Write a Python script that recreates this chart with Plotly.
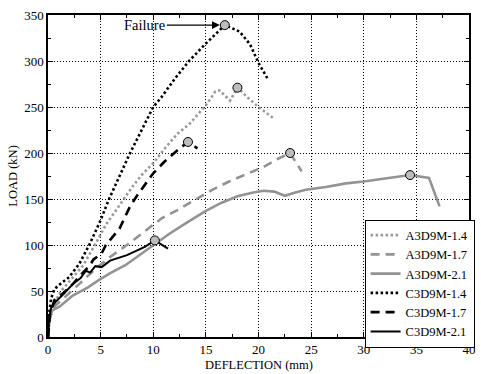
import plotly.graph_objects as go

# ---- data (deflection mm, load kN) ----
a14_x = [0, 0.15, 0.4, 1.25, 2.3, 3.35, 4.45, 5.5, 6.6, 8.0, 8.9, 10, 11.1, 12.3, 13.4, 14.2, 15.15, 15.9, 16.3, 17.3, 18.0, 19.0, 20.0, 21.4]
a14_y = [0, 22, 33, 50, 64, 78, 100, 122, 140, 163, 176, 189, 205, 221, 231, 241, 254, 267, 268, 257, 271, 260, 250, 238]

a17_x = [0, 0.2, 0.6, 1.5, 3.0, 4.5, 5.9, 7.5, 9.4, 10.8, 12.3, 13.9, 15.6, 17.2, 18.9, 20.5, 21.9, 23.0, 24.1]
a17_y = [0, 22, 33, 42, 58, 74, 87, 100, 117, 129, 138, 149, 160, 169, 177, 185, 194, 200, 180]

a21_x = [0, 0.15, 0.4, 1.1, 2.35, 3.8, 4.85, 6.0, 7.35, 8.7, 10, 11.5, 13, 15, 16.5, 18, 19.5, 20.5, 21.5, 22.5, 23.5, 24.5, 26.4, 28.3, 30, 32, 34.4, 36.2, 37.2]
a21_y = [0, 20, 29, 33, 45, 54, 62, 70, 78, 89, 100, 112, 123, 137, 146, 153, 157, 159, 158, 153.5, 157, 160, 163, 167, 169, 172, 176, 173, 142]

c14_x = [0, 0.1, 0.3, 0.6, 1.2, 2.0, 3.0, 4.0, 5.0, 5.8, 6.8, 7.8, 8.9, 10, 10.8, 12, 13.4, 15, 16.8, 18.2, 19.2, 20.0, 20.9]
c14_y = [0, 25, 42, 52, 58, 65, 80, 102, 127, 150, 175, 200, 225, 250, 261, 280, 300, 319, 339, 332, 318, 298, 280]

c17_x = [0, 0.2, 0.6, 1.2, 2.4, 2.9, 4.0, 4.3, 5.1, 5.5, 6.3, 6.8, 7.8, 8.6, 10, 11.1, 12.3, 13.3, 14.2]
c17_y = [0, 25, 40, 45, 58, 65, 78, 84, 91, 100, 111, 118, 142, 156, 178, 191, 203, 212, 205]

c21_x = [0, 0.1, 0.3, 0.7, 1.5, 2.4, 3.1, 3.6, 4.0, 4.5, 5.1, 5.9, 7.5, 9.2, 10.15, 11.4]
c21_y = [0, 20, 32, 38, 47, 58, 64, 72, 70, 77, 76, 83, 89, 98, 105, 96]

fail_x = [18.0, 23.0, 34.4, 16.8, 13.3, 10.15]
fail_y = [271, 200, 176, 339, 212, 105]

names = ["A3D9M-1.4", "A3D9M-1.7", "A3D9M-2.1", "C3D9M-1.4", "C3D9M-1.7", "C3D9M-2.1"]
x_ticks = [0, 5, 10, 15, 20, 25, 30, 35, 40]
y_ticks = [0, 50, 100, 150, 200, 250, 300, 350]

GREY = "#939393"
series = [
    (a14_x, a14_y, dict(color="#9a9a9a", width=2.6, dash="2.5px,2.5px")),
    (a17_x, a17_y, dict(color=GREY, width=2.6, dash="9px,6px")),
    (a21_x, a21_y, dict(color=GREY, width=2.6)),
    (c14_x, c14_y, dict(color="black", width=2.6, dash="2.5px,2.5px")),
    (c17_x, c17_y, dict(color="black", width=2.6, dash="9px,6px")),
    (c21_x, c21_y, dict(color="black", width=2.0)),
]

fig = go.Figure()
for (x, y, ln), nm in zip(series, names):
    fig.add_trace(go.Scatter(x=x, y=y, mode="lines", name=nm, line=ln))

fig.add_trace(go.Scatter(x=fail_x, y=fail_y, mode="markers", showlegend=False,
                         marker=dict(size=9, color="#bdbdbd", line=dict(color="black", width=1))))

FONT = "Liberation Serif"
grid = dict(showgrid=True, gridcolor="black", gridwidth=1, griddash="1px,2px",
            showline=True, linecolor="black", linewidth=1.5, mirror="ticks",
            ticks="inside", ticklen=5, tickwidth=1, tickcolor="black",
            zeroline=False, tickfont=dict(family=FONT, size=13, color="black"))

fig.update_layout(
    width=481, height=374,
    margin=dict(l=48, r=5, t=15, b=37),
    paper_bgcolor="white", plot_bgcolor="white",
    font=dict(family=FONT, size=12, color="black"),
    xaxis=dict(range=[0, 40], tickvals=x_ticks, ticktext=[str(v) for v in x_ticks],
               minor=dict(ticks="inside", ticklen=3, dtick=2.5, tick0=0, showgrid=False, tickcolor="black"),
               **grid),
    yaxis=dict(range=[0, 350], tickvals=y_ticks, ticktext=[str(v) for v in y_ticks],
               minor=dict(ticks="inside", ticklen=3, dtick=25, tick0=0, showgrid=False, tickcolor="black"),
               **grid),
    legend=dict(x=0.752, y=0.166, xanchor="left", yanchor="middle",
                bgcolor="white", bordercolor="black", borderwidth=1,
                font=dict(family=FONT, size=12.5, color="black"),
                itemwidth=30, tracegroupgap=0),
    showlegend=True,
)

fig.add_annotation(x=0.5, y=-0.087, xref="paper", yref="paper", text="DEFLECTION (mm)",
                   showarrow=False, font=dict(family=FONT, size=12.5), xanchor="center", yanchor="middle")
fig.add_annotation(x=-0.084, y=0.5, xref="paper", yref="paper", text="LOAD (kN)",
                   showarrow=False, textangle=-90, font=dict(family=FONT, size=12.5),
                   xanchor="center", yanchor="middle")
fig.add_annotation(x=16.8, y=339, xref="x", yref="y", text="Failure",
                   showarrow=True, ax=-80, ay=0, arrowhead=2, arrowsize=1.2, arrowwidth=1.3,
                   arrowcolor="black", standoff=5, font=dict(family=FONT, size=14.5))

fig.write_html("out.html", config={"displayModeBar": False},
               post_script="document.body.style.margin='0';document.body.style.overflow='hidden';")
